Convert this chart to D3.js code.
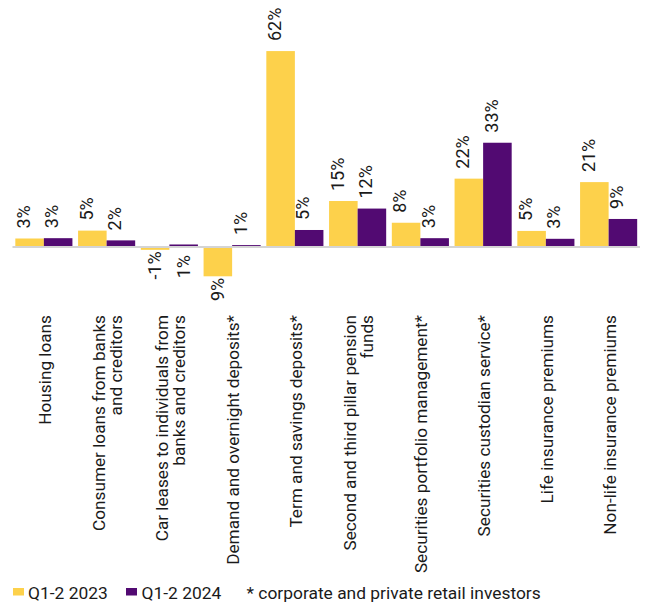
<!DOCTYPE html>
<html>
<head>
<meta charset="utf-8">
<script src="https://cdn.jsdelivr.net/npm/d3@7/dist/d3.min.js"></script>
<style>
  html, body { margin: 0; padding: 0; background: #fff; }
  svg { display: block; font-family: Roboto, "Liberation Sans", Arial, sans-serif; }
</style>
</head>
<body>
<svg id="chart" width="646" height="604"></svg>
<script>
// Categories (line breaks mark where a label wraps)
const categories = [
  ["Housing loans"],
  ["Consumer loans from banks", "and creditors"],
  ["Car leases to individuals from", "banks and creditors"],
  ["Demand and overnight deposits*"],
  ["Term and savings deposits*"],
  ["Second and third pillar pension", "funds"],
  ["Securities portfolio management*"],
  ["Securities custodian service*"],
  ["Life insurance premiums"],
  ["Non-life insurance premiums"]
];

const seriesNames = ["Q1-2 2023", "Q1-2 2024"];

// Growth, %
const values2023 = [2.7, 5.2, -0.9, -9.3, 62.2, 14.6, 7.7, 21.7, 5.1, 20.6];
const values2024 = [2.8, 2.1, 0.8, 0.6, 5.4, 12.2, 2.8, 33.1, 2.6, 8.9];

// Value labels that sit under the axis line although the bar is positive
const labelsUnderAxis = [[2, 1]];

const footnote = "* corporate and private retail investors";

const colors = ["#FDD14B", "#520A72"];

const svg = d3.select("#chart");
const keys = categories.map((c, i) => "c" + i);
const seriesValues = [values2023, values2024];

const x0 = d3.scaleBand().domain(keys).range([12.5, 640])
  .paddingInner(0.09).paddingOuter(0.045);
const x1 = d3.scaleBand().domain(seriesNames).range([0, x0.bandwidth()]);
const y = d3.scaleLinear().domain([-10, 65]).range([278.5, 42.25]);

// clip for value labels (the plot area ends above category labels)
svg.append("defs").append("clipPath").attr("id", "plotClip")
  .append("rect").attr("x", 0).attr("y", 0).attr("width", 646).attr("height", 301);

const rows = [];
keys.forEach((k, i) => {
  seriesNames.forEach((s, j) => rows.push({ key: k, ci: i, si: j, series: s, value: seriesValues[j][i] }));
});

// bars
svg.append("g").selectAll("rect").data(rows).join("rect")
  .attr("x", d => x0(d.key) + x1(d.series))
  .attr("width", x1.bandwidth())
  .attr("y", d => y(Math.max(0, d.value)))
  .attr("height", d => Math.abs(y(d.value) - y(0)))
  .attr("fill", d => colors[d.si]);

// zero axis line
svg.append("line")
  .attr("x1", x0.range()[0]).attr("x2", x0.range()[1])
  .attr("y1", y(0)).attr("y2", y(0))
  .attr("stroke", "#d4d4d4").attr("stroke-width", 2);

// value labels (plain hyphen for the minus sign)
const locale = d3.formatLocale({ decimal: ".", thousands: ",", grouping: [3], currency: ["", ""], minus: "-" });
const fmt = v => locale.format(".0f")(v) + "%";
const isUnder = d => d.value < 0 || labelsUnderAxis.some(p => p[0] === d.ci && p[1] === d.si);
svg.append("g").attr("clip-path", "url(#plotClip)")
  .selectAll("text").data(rows).join("text")
  .attr("transform", d => {
    const cx = x0(d.key) + x1(d.series) + x1.bandwidth() / 2;
    if (isUnder(d)) {
      const yy = d.value < 0 ? y(d.value) + 1.5 : y(0) + 8;
      return `translate(${cx},${yy}) rotate(-90)`;
    }
    return `translate(${cx - 6},${y(d.value) - 10}) rotate(-90)`;
  })
  .attr("dy", "0.35em")
  .attr("text-anchor", d => isUnder(d) ? "end" : "start")
  .attr("font-size", 18)
  .attr("fill", "#1a1a1a")
  .text(d => fmt(d.value));

// category labels, rotated
const lineH = 17.5;
const catG = svg.append("g").selectAll("text").data(keys).join("text")
  .attr("transform", (k, i) => {
    const lines = categories[i].length;
    const cx = x0(k) + x0.bandwidth() / 2 + 1 - (lines - 1) * lineH / 2;
    return `translate(${cx},315) rotate(-90)`;
  })
  .attr("text-anchor", "end")
  .attr("font-size", 17.2)
  .attr("fill", "#1a1a1a");
catG.each(function (k, i) {
  const t = d3.select(this);
  categories[i].forEach((line, li) => {
    t.append("tspan").attr("x", 0).attr("y", li * lineH).attr("dy", "0.35em").text(line);
  });
});

// legend
const legend = svg.append("g");
const legendItems = [
  { label: seriesNames[0], color: colors[0], x: 13, tx: 28 },
  { label: seriesNames[1], color: colors[1], x: 126, tx: 141.5 }
];
legendItems.forEach(it => {
  legend.append("rect").attr("x", it.x).attr("y", 588).attr("width", 11).attr("height", 7.5).attr("fill", it.color);
  legend.append("text").attr("x", it.tx).attr("y", 599).attr("font-size", 17.4).attr("fill", "#1a1a1a").text(it.label);
});
legend.append("text").attr("x", 246.5).attr("y", 599).attr("font-size", 17.4).attr("fill", "#1a1a1a")
  .text(footnote);
</script>
</body>
</html>
